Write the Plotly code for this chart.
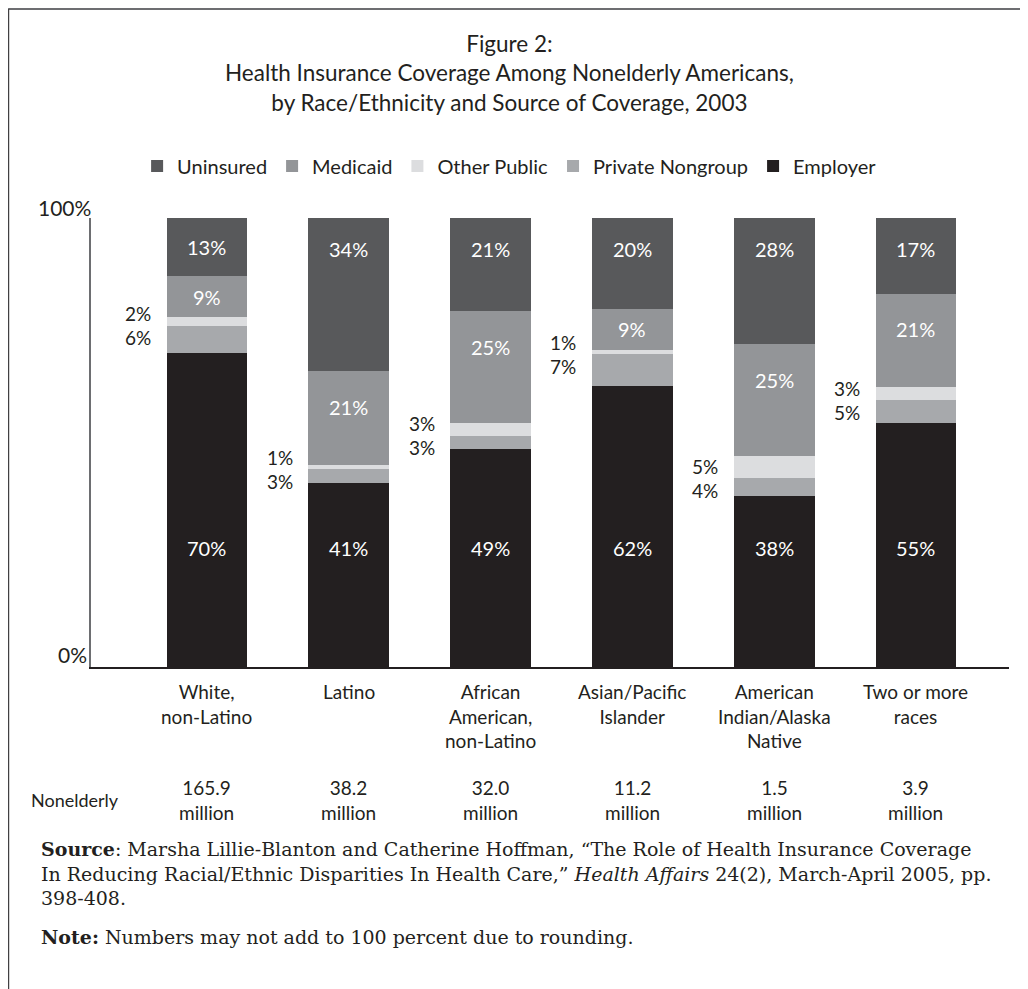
import plotly.graph_objects as go

# ---------------- data ----------------
categories = ["White,<br>non-Latino", "Latino", "African<br>American,<br>non-Latino",
              "Asian/Pacific<br>Islander", "American<br>Indian/Alaska<br>Native", "Two or more<br>races"]
population = ["165.9<br>million", "38.2<br>million", "32.0<br>million",
              "11.2<br>million", "1.5<br>million", "3.9<br>million"]
employer = [70, 41, 49, 62, 38, 55]
private_nongroup = [6, 3, 3, 7, 4, 5]
other_public = [2, 1, 3, 1, 5, 3]
medicaid = [9, 21, 25, 9, 25, 21]
uninsured = [13, 34, 21, 20, 28, 17]
y_ticks = [0, 100]
y_tick_text = ["0%", "100%"]

# ---------------- styles ----------------
FONT = "Lato"
SERIF = "DejaVu Serif"
DARK = "#231f20"
colors = {
    "Employer": "#231f20",
    "Private Nongroup": "#a7a9ac",
    "Other Public": "#dcdddf",
    "Medicaid": "#939598",
    "Uninsured": "#58595b",
}
series = [
    ("Employer", employer),
    ("Private Nongroup", private_nongroup),
    ("Other Public", other_public),
    ("Medicaid", medicaid),
    ("Uninsured", uninsured),
]
BAR_W = 0.57
xs = list(range(len(categories)))

fig = go.Figure()
for name, vals in series:
    fig.add_trace(go.Bar(
        x=xs, y=vals, name=name, width=BAR_W,
        marker=dict(color=colors[name], line=dict(width=0)),
        hoverinfo="name+y",
    ))

annotations = []
for i in xs:
    vals = [s[1][i] for s in series]
    tot = sum(vals)
    norm = [v * 100.0 / tot for v in vals]
    cum = [0]
    for v in norm:
        cum.append(cum[-1] + v)
    # employer (inside, white)
    annotations.append(dict(x=i, y=26.6, xref="x", yref="y", text=f"{employer[i]}%",
                            showarrow=False, font=dict(family=FONT, size=20, color="white")))
    # private nongroup (outside, left) just below the private/other boundary
    annotations.append(dict(x=i, y=cum[2], xref="x", yref="y",
                            text=f"{private_nongroup[i]}%", showarrow=False,
                            xanchor="right", yanchor="middle", xshift=-54, yshift=-12,
                            font=dict(family=FONT, size=19, color=DARK)))
    # other public (outside, left) just above the boundary
    annotations.append(dict(x=i, y=cum[2], xref="x", yref="y",
                            text=f"{other_public[i]}%", showarrow=False,
                            xanchor="right", yanchor="middle", xshift=-54, yshift=12,
                            font=dict(family=FONT, size=19, color=DARK)))
    # medicaid (inside)
    annotations.append(dict(x=i, y=cum[4] - min(norm[3] / 2, 8), xref="x", yref="y",
                            text=f"{medicaid[i]}%", showarrow=False,
                            font=dict(family=FONT, size=20, color="white")))
    # uninsured (inside)
    annotations.append(dict(x=i, y=cum[5] - min(norm[4] / 2, 7), xref="x", yref="y",
                            text=f"{uninsured[i]}%", showarrow=False,
                            font=dict(family=FONT, size=20, color="white")))
    # category labels
    annotations.append(dict(x=i, y=-0.024, xref="x", yref="paper", text=categories[i],
                            showarrow=False, yanchor="top",
                            font=dict(family=FONT, size=19, color=DARK)))
    # population
    annotations.append(dict(x=i, y=-0.238, xref="x", yref="paper", text=population[i],
                            showarrow=False, yanchor="top",
                            font=dict(family=FONT, size=19, color=DARK)))

# y tick labels
for v, t in zip(y_ticks, y_tick_text):
    annotations.append(dict(x=0, y=v, xref="paper", yref="y", text=t, showarrow=False,
                            xanchor="right", yanchor="bottom", xshift=2 if v else -2,
                            yshift=-4 if v else -2,
                            font=dict(family=FONT, size=21, color=DARK)))

annotations.append(dict(x=-0.0675, y=-0.296, xref="paper", yref="paper", text="Nonelderly",
                        showarrow=False, xanchor="left", yanchor="middle",
                        font=dict(family=FONT, size=18, color=DARK)))

# title
annotations.append(dict(x=0.456, y=1.423, xref="paper", yref="paper",
                        text="Figure 2:<br>Health Insurance Coverage Among Nonelderly Americans,"
                             "<br>by Race/Ethnicity and Source of Coverage, 2003",
                        showarrow=False, xanchor="center", yanchor="top",
                        font=dict(family=FONT, size=22.5, color=DARK)))

# source & note
annotations.append(dict(x=-0.057, y=-0.377, xref="paper", yref="paper", align="left",
                        text="<b>Source</b>: Marsha Lillie-Blanton and Catherine Hoffman, "
                             "\u201cThe Role of Health Insurance Coverage<br>In Reducing "
                             "Racial/Ethnic Disparities In Health Care,\u201d <i>Health Affairs</i> "
                             "24(2), March-April 2005, pp.<br>398-408.",
                        showarrow=False, xanchor="left", yanchor="top",
                        font=dict(family=SERIF, size=19, color=DARK)))
annotations.append(dict(x=-0.057, y=-0.601, xref="paper", yref="paper", align="left",
                        text="<b>Note:</b> Numbers may not add to 100 percent due to rounding.",
                        showarrow=False, xanchor="left", yanchor="middle",
                        font=dict(family=SERIF, size=19, color=DARK)))

# frame (top and left edges of the figure)
shapes = [
    dict(type="line", xref="paper", yref="paper", x0=-0.0899, x1=1.03, y0=1.4666, y1=1.4666,
         line=dict(color="#6d6e71", width=3)),
    dict(type="line", xref="paper", yref="paper", x0=-0.0899, x1=-0.0899, y0=1.4666, y1=-0.75,
         line=dict(color="#414042", width=1.5)),
]

fig.update_layout(
    width=1020, height=981,
    margin=dict(l=83, r=19, t=210, b=322, autoexpand=False),
    paper_bgcolor="white", plot_bgcolor="white",
    barmode="stack", barnorm="percent",
    showlegend=True,
    legend=dict(orientation="h", x=0.456, y=1.116, xanchor="center", yanchor="middle",
                traceorder="reversed", font=dict(family=FONT, size=20, color=DARK),
                itemclick=False, itemdoubleclick=False),
    xaxis=dict(range=[-0.818, 5.656], showline=True, linecolor=DARK, linewidth=1.5,
               showticklabels=False, ticks="", showgrid=False, zeroline=False, fixedrange=True),
    yaxis=dict(range=[0, 100], showline=True, linecolor="#6d6e71", linewidth=2,
               showticklabels=False, ticks="", showgrid=False, zeroline=False, fixedrange=True),
    annotations=annotations,
    shapes=shapes,
    font=dict(family=FONT, color=DARK),
)

fig.write_html("out.html")
